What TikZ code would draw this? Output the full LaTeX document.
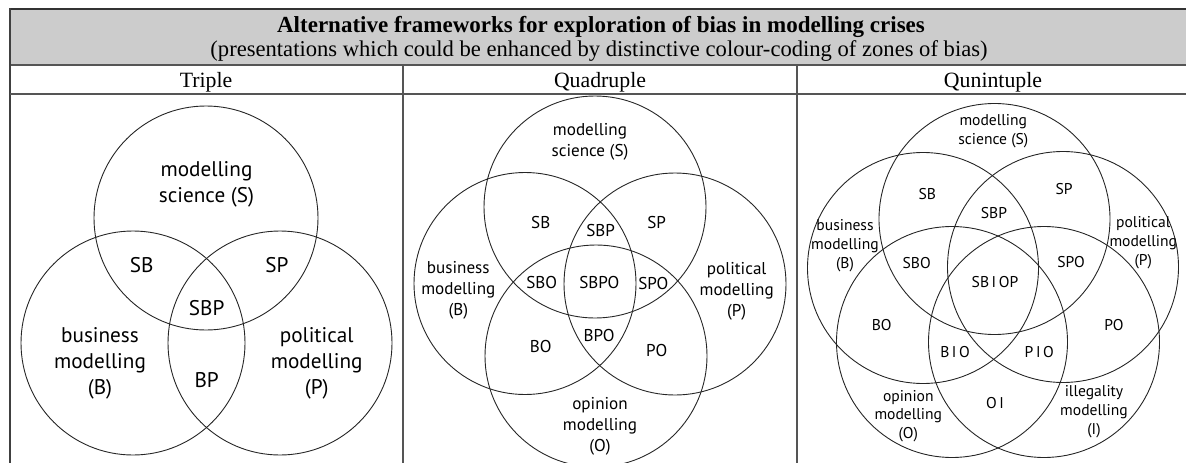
\documentclass[tikz,border=0pt]{standalone}
\usepackage{fontspec}
\setmainfont{Liberation Serif}
\newfontfamily\labfont{PT Sans}
\definecolor{hdrgray}{HTML}{CCCCCC}
\definecolor{rulegray}{HTML}{555555}
\begin{document}
\begin{tikzpicture}[x=1pt,y=-1pt,
  venn/.style={draw=black!85,line width=0.9pt},
  rulex/.style={draw=rulegray,line width=2pt},
  labA/.style={inner sep=0pt,align=center,font=\labfont\fontsize{21.2}{26}\selectfont},
  labB/.style={inner sep=0pt,align=center,font=\labfont\fontsize{17.1}{21}\selectfont},
  labC/.style={inner sep=0pt,align=center,font=\labfont\fontsize{15.6}{18.8}\selectfont},
  colhead/.style={inner sep=0pt,anchor=base,font=\fontsize{21.8}{24}\selectfont},
]
\useasboundingbox (0,0) rectangle (1186,463);
% header
\fill[hdrgray] (10,9) rectangle (1190,65);
\draw[rulex,draw=black!80] (9,9) -- (1190,9);
\draw[rulex] (10,65) -- (1190,65);
\draw[rulex,draw=black!75] (10,8) -- (10,463);
\draw[rulex] (10,94) -- (1190,94);
\draw[rulex] (403,65) -- (403,463);
\draw[rulex] (797,65) -- (797,463);
\node[anchor=base,inner sep=0pt,font=\bfseries\fontsize{23}{24}\selectfont] (title) at (601,32) {Alternative frameworks for exploration of bias in modelling crises};
\node[anchor=base,inner sep=0pt,font=\fontsize{22.6}{24}\selectfont] (subtitle) at (599,56) {(presentations which could be enhanced by distinctive colour-coding of zones of bias)};
\node[colhead] (h1) at (206,87.5) {Triple};
\node[colhead] (h2) at (600,87.5) {Quadruple};
\node[colhead] (h3) at (993,87.5) {Qunintuple};
% ---------- Triple
\coordinate (tS) at (206,218);
\coordinate (tB) at (133,343);
\coordinate (tP) at (280,343);
\foreach \c in {tS,tB,tP} \draw[venn] (\c) circle[radius=112pt];
\node[labA] (tSl) at (206.5,184) {modelling\\science (S)};
\node[labA] (tSB) at (141.7,265) {SB};
\node[labA] (tSP) at (277,265) {SP};
\node[labA] (tSBP) at (206.7,307.7) {SBP};
\node[labA] (tBl) at (100,363) {business\\modelling\\(B)};
\node[labA] (tPl) at (316.7,363) {political\\modelling\\(P)};
\node[labA] (tBP) at (206.7,380) {BP};
% ---------- Quadruple
\coordinate (qS) at (595,207);
\coordinate (qB) at (525,283.5);
\coordinate (qP) at (675,284);
\coordinate (qO) at (596,356);
\foreach \c in {qS,qB,qP,qO} \draw[venn] (\c) circle[radius=111pt];
\node[labB] (qSl) at (590,142) {modelling\\science (S)};
\node[labB] (qSB) at (540.7,222.7) {SB};
\node[labB] (qSBP) at (600.7,230.7) {SBP};
\node[labB] (qSP) at (656.7,222.7) {SP};
\node[labB] (qBl) at (458.3,290.7) {business\\modelling\\(B)};
\node[labB] (qSBO) at (541.7,282.7) {SBO};
\node[labB] (qSBPO) at (599.3,282.7) {SBPO};
\node[labB] (qSPO) at (653.3,283.3) {SPO};
\node[labB] (qPl) at (736.7,291.7) {political\\modelling\\(P)};
\node[labB] (qBO) at (540.7,346.7) {BO};
\node[labB] (qBPO) at (599,336) {BPO};
\node[labB] (qPO) at (656.7,351) {PO};
\node[labB] (qOl) at (600,426.7) {opinion\\modelling\\(O)};
% ---------- Quintuple
\coordinate (pS) at (994.5,219);
\coordinate (pB) at (923,268);
\coordinate (pP) at (1063,267);
\coordinate (pO) at (952,342);
\coordinate (pI) at (1044,342);
\foreach \c in {pS,pB,pP,pO,pI} \draw[venn] (\c) circle[radius=115.5pt];
\node[labC] (pSl) at (993.3,131) {modelling\\science (S)};
\node[labC] (pSB) at (927.3,194.3) {SB};
\node[labC] (pSP) at (1064,189.3) {SP};
\node[labC] (pSBP) at (994,213.3) {SBP};
\node[labC] (pBl) at (845,245.7) {business\\modelling\\(B)};
\node[labC] (pPl) at (1143.3,242.7) {political\\modelling\\(P)};
\node[labC] (pSBO) at (916.7,262.7) {SBO};
\node[labC] (pSPO) at (1071,261.7) {SPO};
\node[labC] (pSBIOP) at (995,281.7) {SB\,I\,OP};
\node[labC] (pBO) at (881.7,325) {BO};
\node[labC] (pPO) at (1114,325) {PO};
\node[labC] (pBIO) at (955,352.3) {B\,I\,O};
\node[labC] (pPIO) at (1039.3,351.7) {P\,I\,O};
\node[labC] (pOI) at (995,402.7) {O\,I};
\node[labC] (pOl) at (908.3,416) {opinion\\modelling\\(O)};
\node[labC] (pIl) at (1094,411.7) {illegality\\modelling\\(I)};
\end{tikzpicture}
\end{document}
